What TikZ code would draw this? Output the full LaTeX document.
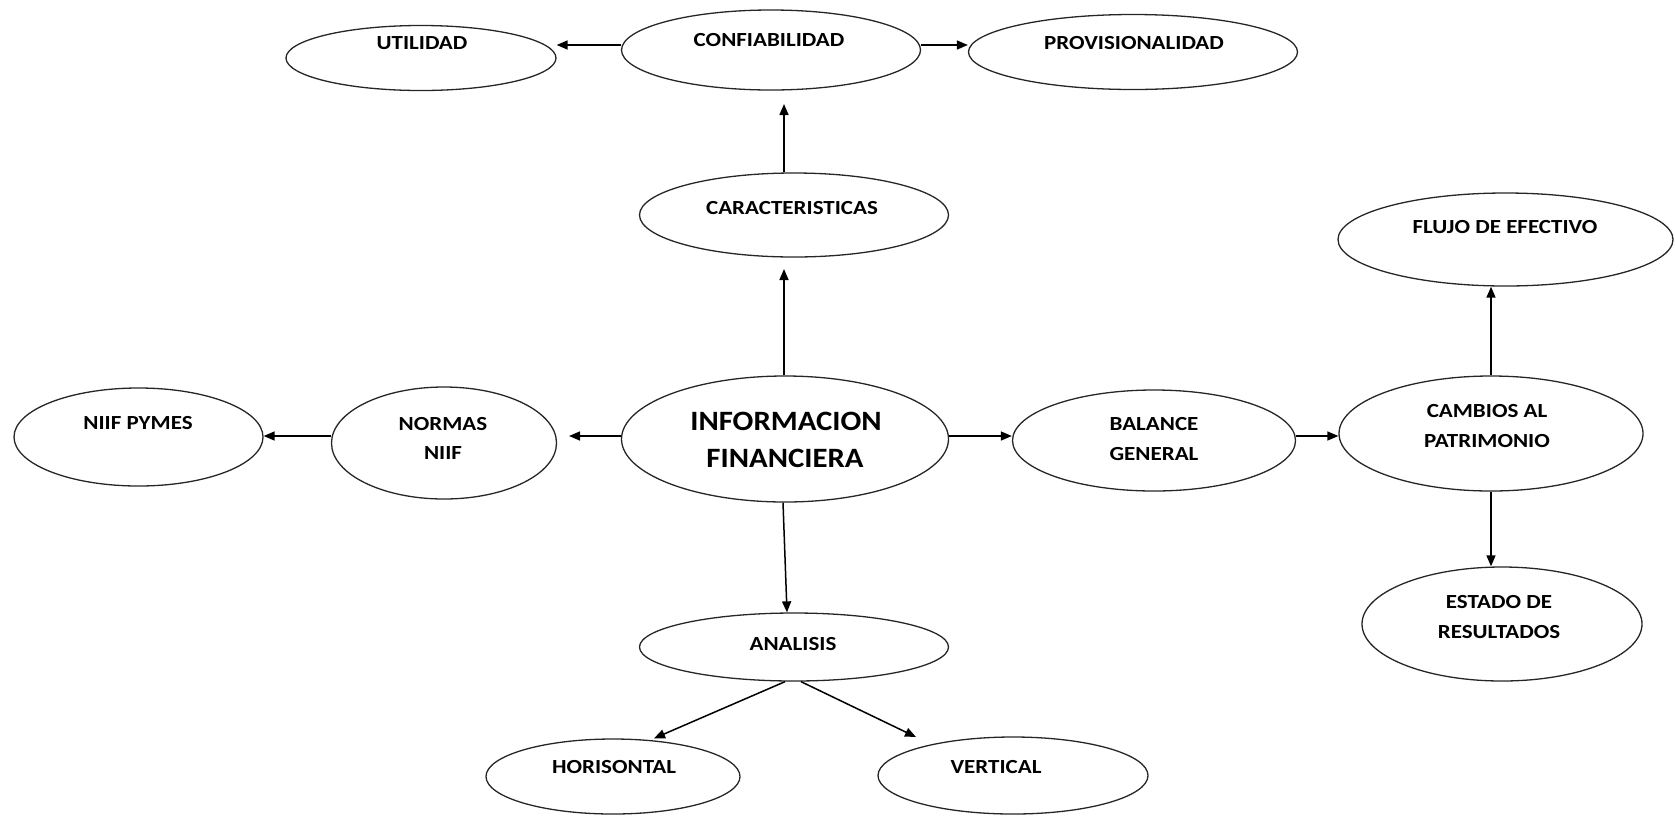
\documentclass[tikz,border=0pt]{standalone}
\usepackage{fontspec}
\setmainfont{Carlito}
\newfontfamily\smallf{Carlito}[FakeStretch=1.15]
\newfontfamily\bigf{Carlito}[FakeStretch=1.1]
\usetikzlibrary{shapes.geometric,arrows.meta}
\begin{document}
\begin{tikzpicture}[x=1pt,y=-1pt,
  ell/.style={ellipse,draw=black!85,line width=1.3pt,inner sep=0pt},
  lbl/.style={font=\smallf\bfseries\fontsize{20}{24}\selectfont,anchor=base,inner sep=0pt},
  big/.style={font=\bigf\bfseries\fontsize{28}{34}\selectfont,anchor=base,inner sep=0pt},
  arr/.style={line width=1.5pt,-{Triangle[length=11pt,width=9pt]}}]
\useasboundingbox (0,0) rectangle (1675,815);
% ellipses
\node[ell,minimum width=270pt,minimum height=65pt] (util) at (421,58) {};
\node[ell,minimum width=299pt,minimum height=80pt] (conf) at (771,50) {};
\node[ell,minimum width=329pt,minimum height=75pt] (prov) at (1133,52) {};
\node[ell,minimum width=309pt,minimum height=84pt] (car) at (794,215) {};
\node[ell,minimum width=327pt,minimum height=126pt] (info) at (785,439) {};
\node[ell,minimum width=225pt,minimum height=112pt] (norm) at (444,443) {};
\node[ell,minimum width=249pt,minimum height=98pt] (pymes) at (138.5,437) {};
\node[ell,minimum width=283pt,minimum height=101pt] (bal) at (1154,440.5) {};
\node[ell,minimum width=304pt,minimum height=115pt] (camb) at (1491,433.5) {};
\node[ell,minimum width=335pt,minimum height=93pt] (flujo) at (1505.5,239.5) {};
\node[ell,minimum width=280pt,minimum height=114pt] (estado) at (1502,624) {};
\node[ell,minimum width=309pt,minimum height=68pt] (anal) at (794,647) {};
\node[ell,minimum width=254pt,minimum height=75pt] (hor) at (613,776.5) {};
\node[ell,minimum width=270pt,minimum height=77pt] (vert) at (1013,775.5) {};
% labels
\node[lbl] (tutil) at (422,49.2) {UTILIDAD};
\node[lbl] (tconf) at (769,46) {CONFIABILIDAD};
\node[lbl] (tprov) at (1134,49.2) {PROVISIONALIDAD};
\node[lbl] (tcar) at (792,214) {CARACTERISTICAS};
\node[big] (tinfo1) at (786,430.7) {INFORMACION};
\node[big] (tinfo2) at (785,467) {FINANCIERA};
\node[lbl] (tnorm1) at (443,430.5) {NORMAS};
\node[lbl] (tnorm2) at (443,459.5) {NIIF};
\node[lbl] (tpymes) at (138,429.5) {NIIF PYMES};
\node[lbl] (tbal1) at (1154,430.5) {BALANCE};
\node[lbl] (tbal2) at (1154,460.5) {GENERAL};
\node[lbl] (tcamb1) at (1487,417.5) {CAMBIOS AL};
\node[lbl] (tcamb2) at (1487,447.5) {PATRIMONIO};
\node[lbl] (tflujo) at (1505,233) {FLUJO DE EFECTIVO};
\node[lbl] (test1) at (1499,608) {ESTADO DE};
\node[lbl] (test2) at (1499,638.5) {RESULTADOS};
\node[lbl] (tanal) at (793,650) {ANALISIS};
\node[lbl] (thor) at (614,773.5) {HORISONTAL};
\node[lbl] (tvert) at (996,773.5) {VERTICAL};
% free arrow ends
\coordinate (c1) at (784,104);
\coordinate (c2) at (784,269);
\coordinate (c3) at (569,436);
\coordinate (c5) at (916,737);
% connectors
\draw[arr] ([yshift=5pt]conf.west) -- ([yshift=5pt]conf.west -| util.east);
\draw[arr] ([yshift=5pt]conf.east) -- ([yshift=5pt]conf.east -| prov.west);
\draw[arr] (car.north -| c1) -- (c1);
\draw[arr] (info.north -| c2) -- (c2);
\draw[arr] (info.west |- c3) -- (c3);
\draw[arr] (norm.west |- c3) -- (c3 -| pymes.east);
\draw[arr] (info.east |- c3) -- (c3 -| bal.west);
\draw[arr] (bal.east |- c3) -- (c3 -| camb.west);
\draw[arr] (camb.north) -- (camb.north |- flujo.south);
\draw[arr] (camb.south) -- (camb.south |- estado.north);
\draw[arr] ([xshift=-2pt]info.south) -- ([xshift=-7pt]anal.north);
\draw[arr] ([xshift=-9pt]anal.south) -- ([xshift=41pt]hor.north);
\draw[arr] ([xshift=7pt]anal.south) -- (c5);
\end{tikzpicture}
\end{document}
